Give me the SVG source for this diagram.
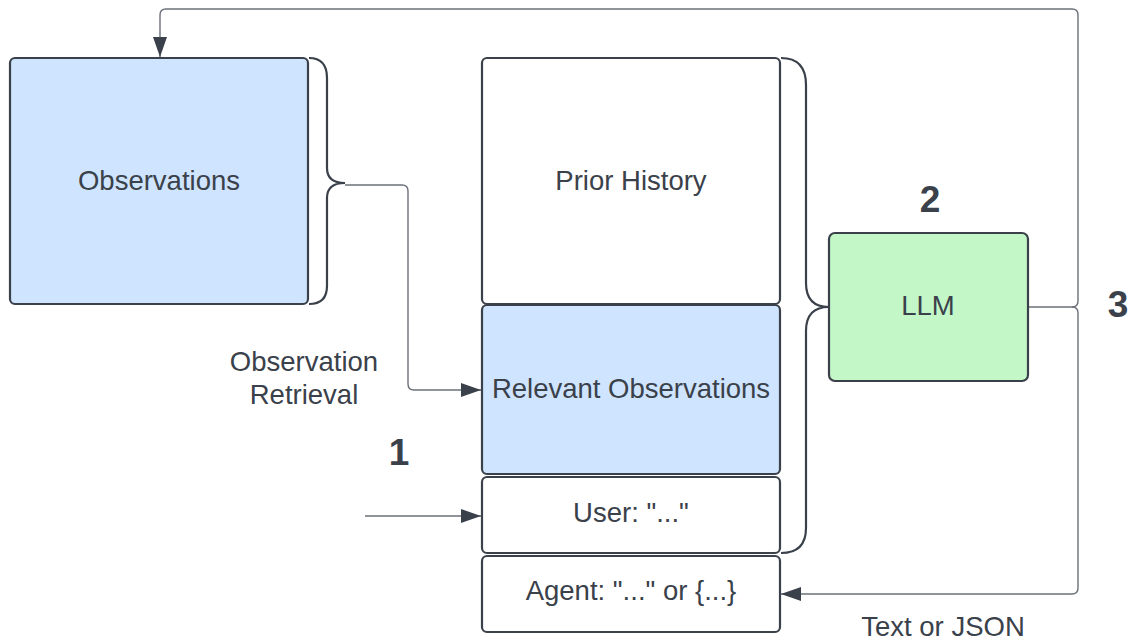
<svg xmlns="http://www.w3.org/2000/svg" width="1133" height="642" viewBox="0 0 1133 642">
<style>
.box{stroke:#3a414a;stroke-width:2.2}
.blue{fill:#cfe4ff}
.white{fill:#ffffff}
.green{fill:#c3f7c8}
.brace{fill:none;stroke:#3a414a;stroke-width:2.2}
.conn{fill:none;stroke:#6b7079;stroke-width:1.4}
.lbl{font-family:"Liberation Sans",Arial,sans-serif;font-size:27.5px;fill:#3a414a;text-anchor:middle}
.num{font-family:"Liberation Sans",Arial,sans-serif;font-size:37px;font-weight:bold;fill:#3a414a;text-anchor:middle}
</style>
<defs>
<marker id="arr" viewBox="0 0 20 14" refX="20" refY="7" markerWidth="20" markerHeight="14" markerUnits="userSpaceOnUse" orient="auto">
<path d="M0,0 L20,7 L0,14 Z" fill="#3a414a"/>
</marker>
</defs>
<rect width="1133" height="642" fill="#ffffff"/>
<g id="connectors">
<path class="conn" d="M345,185 L402,185 Q408,185 408,191 L408,384 Q408,390 414,390 L481,390" marker-end="url(#arr)"/>
<path class="conn" d="M365,516 L481,516" marker-end="url(#arr)"/>
<path class="conn" d="M1028,307 L1072,307 Q1078,307 1078,301 L1078,15 Q1078,9 1072,9 L166,9 Q160,9 160,15 L160,57" marker-end="url(#arr)"/>
<path class="conn" d="M1072,307 Q1078,307 1078,313 L1078,588 Q1078,594 1072,594 L781,594" marker-end="url(#arr)"/>
</g>
<g id="observations">
<rect class="box blue" x="10" y="58" width="298" height="246" rx="5"/>
<text class="lbl" x="159" y="190">Observations</text>
</g>
<g id="obs-brace">
<path class="brace" d="M309,58 Q327,58 327,78 L327,168 Q327,183 345,183 Q327,183 327,198 L327,286 Q327,304 309,304"/>
</g>
<g id="prior-history">
<rect class="box white" x="482" y="58" width="298" height="246" rx="5"/>
<text class="lbl" x="631" y="190">Prior History</text>
</g>
<g id="relevant-observations">
<rect class="box blue" x="482" y="305" width="298" height="169" rx="5"/>
<text class="lbl" x="631" y="398">Relevant Observations</text>
</g>
<g id="user">
<rect class="box white" x="482" y="477" width="298" height="76" rx="5"/>
<text class="lbl" x="631" y="522">User: "..."</text>
</g>
<g id="agent">
<rect class="box white" x="482" y="556" width="298" height="76" rx="5"/>
<text class="lbl" x="631" y="600">Agent: "..." or {...}</text>
</g>
<g id="context-brace">
<path class="brace" d="M781,58 Q806,58 806,85 L806,283 Q806,307 829,307 Q806,307 806,331 L806,528 Q806,553 781,553"/>
</g>
<g id="llm">
<rect class="box green" x="829" y="233" width="199" height="148" rx="6"/>
<text class="lbl" x="928" y="315">LLM</text>
</g>
<g id="labels">
<text class="lbl" x="304" y="371">Observation</text>
<text class="lbl" x="304" y="404">Retrieval</text>
<text class="lbl" x="943" y="636">Text or JSON</text>
<text class="num" x="399" y="465">1</text>
<text class="num" x="930" y="212">2</text>
<text class="num" x="1118" y="317">3</text>
</g>
</svg>
